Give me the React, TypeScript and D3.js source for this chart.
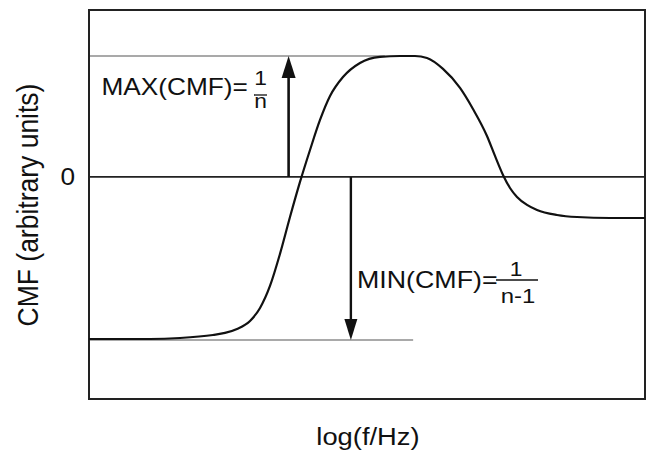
import React from "react";
import * as d3 from "d3";

// Cross-modulation function vs. log frequency (arbitrary units)
const logF = [0, 1.097, 1.637, 2.23, 2.446, 2.662, 2.896, 3.076, 3.255, 3.435, 3.615, 3.795, 3.975, 4.155, 4.335, 4.568, 4.874, 5.234, 5.594, 5.863, 6.079, 6.367, 6.673, 6.906, 7.158, 7.302, 7.446, 7.572, 7.698, 7.878, 8.058, 8.417, 8.777, 9.371, 10];
const cmf = [-1.339, -1.339, -1.331, -1.306, -1.289, -1.256, -1.19, -1.083, -0.901, -0.636, -0.331, -0.041, 0.223, 0.471, 0.669, 0.826, 0.942, 0.992, 1.0, 1.0, 0.983, 0.893, 0.736, 0.562, 0.339, 0.174, 0.017, -0.091, -0.165, -0.231, -0.273, -0.314, -0.331, -0.339, -0.339];

// Reference levels and where their guide lines / arrows sit along the x axis
const maxLevel = 1.0;
const minLevel = -1.347;
const maxLineEnd = 5.32;
const minLineEnd = 5.83;
const maxArrowX = 3.59;
const minArrowX = 4.71;

const yTicks = [0];
const xTitle = "log(f/Hz)";
const yTitle = "CMF (arbitrary units)";
const maxText = "MAX(CMF)=";
const minText = "MIN(CMF)=";
const maxFrac = ["1", "n"];
const minFrac = ["1", "n-1"];

const W = 649;
const H = 456;
const plot = { left: 89, right: 645, top: 10, bottom: 399 };
const font = "'Liberation Sans', Arial, Helvetica, sans-serif";
const sx = 1.14;

export default function App() {
  const x = d3.scaleLinear().domain([0, 10]).range([plot.left, plot.right]);
  const y = d3.scaleLinear().domain([-1.835, 1.38]).range([plot.bottom, plot.top]);

  const pts: [number, number][] = logF.map((f, i) => [f, cmf[i]]);
  const line = d3
    .line<[number, number]>()
    .x((d) => x(d[0]))
    .y((d) => y(d[1]))
    .curve(d3.curveMonotoneX);

  const y0 = y(0);
  const ax1 = x(maxArrowX);
  const ax2 = x(minArrowX);
  const yMax = y(maxLevel);
  const yMin = y(minLevel);

  const upHead = `M${ax1},${yMax} L${ax1 - 7},${yMax + 22} L${ax1 + 7},${yMax + 22} Z`;
  const downHead = `M${ax2},${yMin} L${ax2 - 6.5},${yMin - 21} L${ax2 + 6.5},${yMin - 21} Z`;

  const txt = (
    tx: number,
    ty: number,
    s: string,
    size: number,
    anchor: string = "start",
    key?: string
  ) => (
    <text
      key={key}
      transform={`translate(${tx},${ty}) scale(${sx},1)`}
      fontSize={size}
      textAnchor={anchor}
      fontFamily={font}
      fill="#111"
    >
      {s}
    </text>
  );

  return (
    <svg
      width={W}
      height={H}
      style={{ position: "absolute", left: 0, top: 0, background: "#fff" }}
    >
      <rect x={0} y={0} width={W} height={H} fill="#fff" />

      {/* guide lines at max and min levels */}
      <line x1={plot.left} x2={x(maxLineEnd)} y1={yMax} y2={yMax} stroke="#555" strokeWidth={1.1} />
      <line x1={plot.left} x2={x(minLineEnd)} y1={yMin} y2={yMin} stroke="#555" strokeWidth={1.1} />

      {/* zero line */}
      <line x1={plot.left} x2={plot.right} y1={y0} y2={y0} stroke="#222" strokeWidth={1.8} />

      {/* frame */}
      <rect
        x={plot.left}
        y={plot.top}
        width={plot.right - plot.left}
        height={plot.bottom - plot.top}
        fill="none"
        stroke="#222"
        strokeWidth={2}
      />

      {/* curve */}
      <path d={line(pts) ?? ""} fill="none" stroke="#111" strokeWidth={2.2} />

      {/* arrows */}
      <line x1={ax1} x2={ax1} y1={y0} y2={yMax + 20} stroke="#111" strokeWidth={2.6} />
      <path d={upHead} fill="#111" />
      <line x1={ax2} x2={ax2} y1={y0} y2={yMin - 19} stroke="#111" strokeWidth={2.4} />
      <path d={downHead} fill="#111" />

      {/* MAX label with fraction */}
      {txt(101.5, 95, maxText, 23)}
      {txt(260.5, 85, maxFrac[0], 20, "middle")}
      <line x1={254} x2={267} y1={95} y2={95} stroke="#111" strokeWidth={1.3} />
      {txt(260.5, 108, maxFrac[1], 20, "middle")}

      {/* MIN label with fraction */}
      {txt(357, 288, minText, 23.5)}
      {txt(516, 276, minFrac[0], 20, "middle")}
      <line x1={496} x2={538} y1={280} y2={280} stroke="#111" strokeWidth={1.3} />
      {txt(518, 303, minFrac[1], 21, "middle")}

      {/* y tick labels */}
      {yTicks.map((t) => txt(75, y(t) + 8.5, String(t), 23, "end", `t${t}`))}

      {/* axis titles */}
      {txt(368, 445, xTitle, 24, "middle")}
      <text
        transform={`translate(38,205) scale(${sx},1) rotate(-90)`}
        fontSize={26.5}
        textAnchor="middle"
        fontFamily={font}
        fill="#111"
      >
        {yTitle}
      </text>
    </svg>
  );
}
